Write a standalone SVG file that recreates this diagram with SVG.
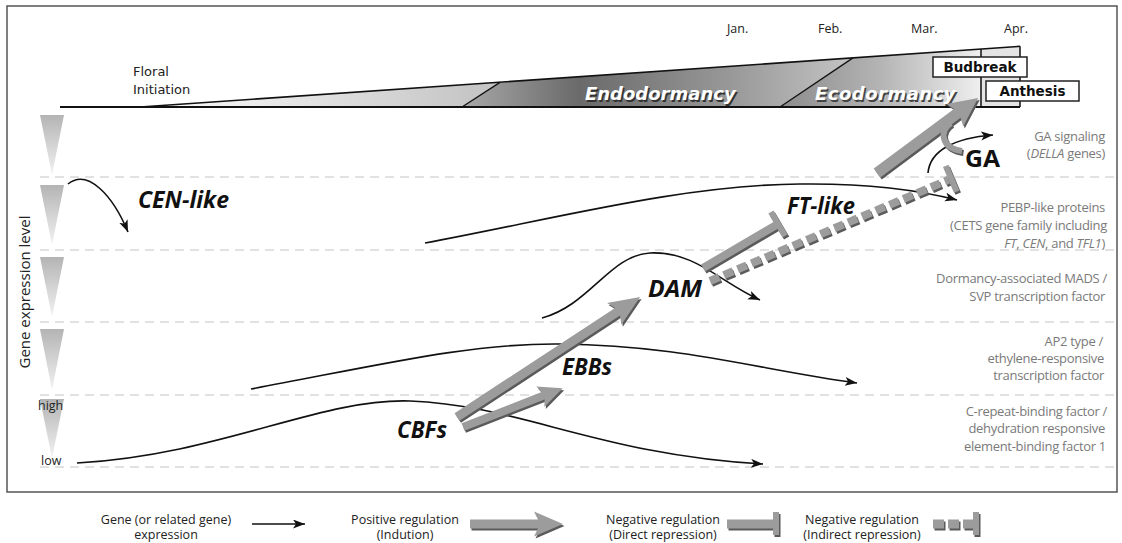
<svg xmlns="http://www.w3.org/2000/svg" xmlns:xlink="http://www.w3.org/1999/xlink" width="1122" height="543" viewBox="0 0 1122 543">
<style>
.lbl{font-family:"DejaVu Sans",Verdana,sans-serif;font-size:13px;fill:#222}
.mon{font-family:"Open Sans","Liberation Sans",sans-serif;font-size:12.5px;fill:#222}
.axl{font-family:"Open Sans","Liberation Sans",sans-serif;font-size:15px;fill:#222;text-anchor:middle}
.box{fill:#fff;stroke:#222;stroke-width:1.5}
.boxt{font-family:"DejaVu Sans",Verdana,sans-serif;font-size:13.5px;font-weight:bold;fill:#111;text-anchor:middle}
.phase{font-family:"DejaVu Sans",Verdana,sans-serif;font-size:18px;font-weight:bold;font-style:italic}
.gene{font-family:"Open Sans","Liberation Sans",sans-serif;font-style:italic;font-weight:700;fill:#111}
.rl{font-family:"Open Sans","Liberation Sans",sans-serif;font-size:13px;letter-spacing:-0.3px;fill:#7a7a7a;text-anchor:end}
.leg{font-family:"Open Sans","Liberation Sans",sans-serif;font-size:12.5px;fill:#222;text-anchor:middle}
.dash{stroke:#c4c4c4;stroke-width:1;stroke-dasharray:9 6;fill:none}
.curve{fill:none;stroke:#111;stroke-width:1.6}
.tri{fill:url(#triG)}
.lt{fill:#9c9c9c}
.sh{fill:#5a5a5a}
</style>
<defs>
<linearGradient id="g1" gradientUnits="userSpaceOnUse" x1="140" y1="0" x2="470" y2="0">
<stop offset="0" stop-color="#ffffff"/><stop offset="1" stop-color="#c6c6c6"/>
</linearGradient>
<linearGradient id="g2" gradientUnits="userSpaceOnUse" x1="462" y1="0" x2="853" y2="0">
<stop offset="0" stop-color="#a8a8a8"/><stop offset="0.3" stop-color="#6a6a6a"/><stop offset="0.7" stop-color="#9a9a9a"/><stop offset="1" stop-color="#c4c4c4"/>
</linearGradient>
<linearGradient id="g3" gradientUnits="userSpaceOnUse" x1="780" y1="0" x2="981" y2="0">
<stop offset="0" stop-color="#8c8c8c"/><stop offset="0.5" stop-color="#b4b4b4"/><stop offset="1" stop-color="#efefef"/>
</linearGradient>
<linearGradient id="triG" x1="0" y1="0" x2="0" y2="1">
<stop offset="0" stop-color="#b4b4b4"/><stop offset="1" stop-color="#f2f2f2"/>
</linearGradient>
<marker id="ah" markerUnits="userSpaceOnUse" markerWidth="13" markerHeight="10" refX="12" refY="4.5" orient="auto">
<path d="M0,0 L12,4.5 L0,9 L3,4.5 Z" fill="#111"/>
</marker>
<path id="arA" d="M0,-4.5 L192,-4.5 L188,-13 L219,0 L188,13 L192,4.5 L0,4.5 Z" transform="translate(457,417) rotate(-33.25)"/>
<path id="arB" d="M0,-4 L86,-4 L83,-11 L107,0 L83,11 L86,4 L0,4 Z" transform="translate(463,427) rotate(-21.3)"/>
<path id="arC" d="M0,-5.5 L100,-5.5 L97,-14 L126,0 L97,14 L100,5.5 L0,5.5 Z" transform="translate(877,173) rotate(-36.6)"/>
<path id="tD" d="M0,-4 L84,-4 L84,-14 L90,-14 L90,14 L84,14 L84,4 L0,4 Z" transform="translate(703,268) rotate(-30.4)"/>
<path id="tE" d="M259,-14 L265,-14 L265,14 L259,14 Z" transform="translate(710,281) rotate(-22.97)"/>
<path id="lgA" d="M0,-4.5 L68,-4.5 L64,-12.5 L93,0 L64,12.5 L68,4.5 L0,4.5 Z" transform="translate(470,524)"/>
<path id="lgT" d="M727,519.5 L773,519.5 L773,512 L779,512 L779,535 L773,535 L773,528.5 L727,528.5 Z"/>
<path id="lgTb" d="M973,512 L979,512 L979,535 L973,535 Z"/>
</defs>

<rect x="7" y="6" width="1110" height="486" fill="#fff" stroke="#555" stroke-width="1.5"/>

<g id="timeline">
<polygon points="140,107 500,82.4 462,107" fill="url(#g1)"/>
<polygon points="462,107 500,82.4 853,57.9 780,107" fill="url(#g2)"/>
<polygon points="780,107 853,57.9 981,49 981,107" fill="url(#g3)"/>
<polygon points="981,49 1020,46.3 1020,107 981,107" fill="#e4e4e4"/>
<line x1="140" y1="107" x2="1020" y2="46.3" stroke="#111" stroke-width="1.6"/>
<line x1="60" y1="107" x2="1020" y2="107" stroke="#111" stroke-width="2"/>
<line x1="462" y1="107" x2="500" y2="82.4" stroke="#111" stroke-width="1.3"/>
<line x1="780" y1="107" x2="853" y2="57.9" stroke="#111" stroke-width="1.3"/>
<line x1="981" y1="49" x2="981" y2="107" stroke="#111" stroke-width="1.5"/>
<line x1="1020" y1="46.3" x2="1020" y2="107" stroke="#111" stroke-width="1.5"/>
<text class="lbl" x="133" y="76">Floral</text>
<text class="lbl" x="133" y="94">Initiation</text>
<text class="mon" x="727" y="33">Jan.</text>
<text class="mon" x="818" y="33">Feb.</text>
<text class="mon" x="911" y="33">Mar.</text>
<text class="mon" x="1004" y="33">Apr.</text>
<text class="phase" x="586.5" y="101.5" fill="#333">Endodormancy</text>
<text class="phase" x="585" y="100" fill="#fff">Endodormancy</text>
<text class="phase" x="816.5" y="101.5" fill="#444" letter-spacing="0.5">Ecodormancy</text>
<text class="phase" x="815" y="100" fill="#fff" letter-spacing="0.5">Ecodormancy</text>
<g id="budbreak"><rect class="box" x="933" y="57" width="94" height="20"/><text class="boxt" x="980" y="72">Budbreak</text></g>
<g id="anthesis"><rect class="box" x="986" y="81" width="93" height="20"/><text class="boxt" x="1032.5" y="96">Anthesis</text></g>
</g>

<g id="axis">
<line class="dash" x1="40" y1="177" x2="1116" y2="177"/>
<line class="dash" x1="40" y1="250" x2="1116" y2="250"/>
<line class="dash" x1="40" y1="322" x2="1116" y2="322"/>
<line class="dash" x1="40" y1="395" x2="1116" y2="395"/>
<line class="dash" x1="40" y1="467" x2="1116" y2="467"/>
<polygon class="tri" points="40,115 64,115 52,175"/>
<polygon class="tri" points="40,185 64,185 52,245"/>
<polygon class="tri" points="40,257 64,257 52,317"/>
<polygon class="tri" points="40,329 64,329 52,390"/>
<polygon class="tri" points="40,399 64,399 52,458"/>
<text class="mon" x="38" y="410">high</text>
<text class="mon" x="41" y="465">low</text>
<text class="axl" transform="translate(30,292) rotate(-90)" x="0" y="0">Gene expression level</text>
</g>

<g id="row-labels">
<text class="rl" x="1105" y="141">GA signaling</text>
<text class="rl" x="1105" y="158">(<tspan font-style="italic">DELLA</tspan> genes)</text>
<text class="rl" x="1105" y="212">PEBP-like proteins</text>
<text class="rl" x="1107" y="230">(CETS gene family including</text>
<text class="rl" x="1105" y="248"><tspan font-style="italic">FT</tspan>, <tspan font-style="italic">CEN</tspan>, and <tspan font-style="italic">TFL1</tspan>)</text>
<text class="rl" x="1107" y="283">Dormancy-associated MADS /</text>
<text class="rl" x="1105" y="301">SVP transcription factor</text>
<text class="rl" x="1103" y="346">AP2 type /</text>
<text class="rl" x="1104" y="363">ethylene-responsive</text>
<text class="rl" x="1104" y="380">transcription factor</text>
<text class="rl" x="1107" y="416">C-repeat-binding factor /</text>
<text class="rl" x="1105" y="433">dehydration responsive</text>
<text class="rl" x="1106" y="451">element-binding factor 1</text>
</g>

<g id="gene-CEN-like">
<path class="curve" d="M68,184 C88,168 113,196 128,232" marker-end="url(#ah)"/>
<text class="gene" x="138" y="208" font-size="24" textLength="91" lengthAdjust="spacingAndGlyphs">CEN-like</text>
</g>
<g id="gene-FT-like">
<path class="curve" d="M425,243 C550,220 680,185 800,184 C880,183 930,193 957,200" marker-end="url(#ah)"/>
<text class="gene" x="787" y="214" font-size="23" textLength="68" lengthAdjust="spacingAndGlyphs">FT-like</text>
</g>
<g id="gene-DAM">
<path class="curve" d="M542,318 C590,305 610,255 650,253 C695,251 720,282 760,300" marker-end="url(#ah)"/>
<text class="gene" x="648" y="297" font-size="24" textLength="54" lengthAdjust="spacingAndGlyphs">DAM</text>
</g>
<g id="gene-EBBs">
<path class="curve" d="M251,389 C380,365 470,343 560,344 C680,345 760,370 857,383" marker-end="url(#ah)"/>
<text class="gene" x="562" y="375" font-size="24" textLength="50" lengthAdjust="spacingAndGlyphs">EBBs</text>
</g>
<g id="gene-CBFs">
<path class="curve" d="M77,463 C220,455 320,398 410,401 C520,405 600,455 763,464" marker-end="url(#ah)"/>
<text class="gene" x="397" y="438" font-size="24" textLength="50" lengthAdjust="spacingAndGlyphs">CBFs</text>
</g>
<g id="gene-GA">
<path class="curve" d="M928,173 C930,150 955,138 993,135" marker-end="url(#ah)"/>
<text x="965" y="167" font-family="'Open Sans','Liberation Sans',sans-serif" font-weight="bold" font-size="24" fill="#111" textLength="35" lengthAdjust="spacingAndGlyphs">GA</text>
</g>

<g id="connectors">
<g transform="translate(1.5,2)" class="sh">
<use xlink:href="#arA"/><use xlink:href="#arB"/><use xlink:href="#arC"/><use xlink:href="#tD"/><use xlink:href="#tE"/>
<path d="M710,281 L948.5,179.8" stroke="#5a5a5a" stroke-width="8" stroke-dasharray="10 5" fill="none"/>
<path d="M951,123 C939,131 941,148 962,151" stroke="#5a5a5a" stroke-width="6" fill="none"/>
</g>
<use xlink:href="#arA" class="lt"/>
<use xlink:href="#arB" class="lt"/>
<use xlink:href="#arC" class="lt"/>
<path d="M951,123 C939,131 941,148 962,151" stroke="#9c9c9c" stroke-width="6" fill="none"/>
<use xlink:href="#tD" class="lt"/>
<path d="M710,281 L948.5,179.8" stroke="#9c9c9c" stroke-width="8" stroke-dasharray="10 5" fill="none"/>
<use xlink:href="#tE" class="lt"/>
</g>

<g id="legend">
<text class="leg" x="166" y="524">Gene (or related gene)</text>
<text class="leg" x="166" y="539">expression</text>
<line x1="252" y1="524" x2="305" y2="524" class="curve" marker-end="url(#ah)"/>
<text class="leg" x="405" y="524">Positive regulation</text>
<text class="leg" x="405" y="539">(Indution)</text>
<use xlink:href="#lgA" class="sh" transform="translate(1.5,2)"/>
<use xlink:href="#lgA" class="lt"/>
<text class="leg" x="663" y="524">Negative regulation</text>
<text class="leg" x="663" y="539">(Direct repression)</text>
<use xlink:href="#lgT" class="sh" transform="translate(1.5,2)"/>
<use xlink:href="#lgT" class="lt"/>
<text class="leg" x="862" y="524">Negative regulation</text>
<text class="leg" x="862" y="539">(Indirect repression)</text>
<line x1="934.5" y1="526" x2="974.5" y2="526" stroke="#5a5a5a" stroke-width="9" stroke-dasharray="11 4"/>
<line x1="933" y1="524" x2="973" y2="524" stroke="#9c9c9c" stroke-width="9" stroke-dasharray="11 4"/>
<use xlink:href="#lgTb" class="sh" transform="translate(1.5,2)"/>
<use xlink:href="#lgTb" class="lt"/>
</g>
</svg>
